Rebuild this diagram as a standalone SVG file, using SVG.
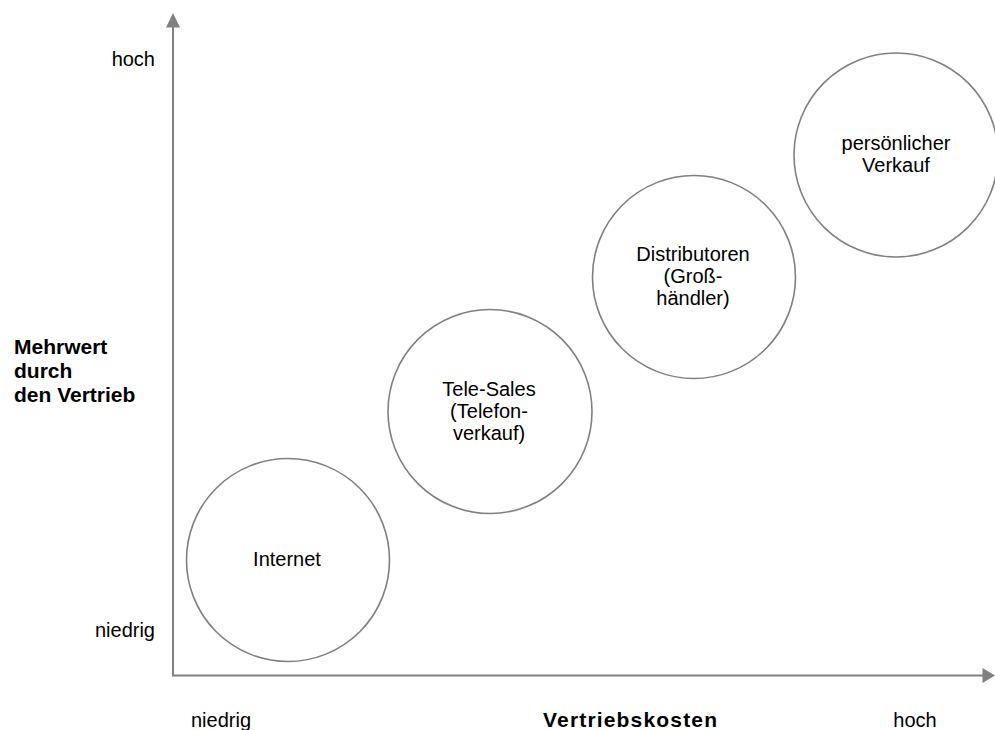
<svg xmlns="http://www.w3.org/2000/svg" width="995" height="730" viewBox="0 0 995 730">
  <style>
    .axis { stroke: #808080; stroke-width: 2; fill: none; }
    .head { fill: #808080; }
    .node circle { fill: #ffffff; stroke: #808080; stroke-width: 1.6; }
    .lbl { font-family: "Liberation Sans", Arial, sans-serif; font-size: 20px; fill: #000000; }
    .mid { text-anchor: middle; }
    .bold { font-weight: bold; font-size: 21px; }
  </style>
  <rect width="995" height="730" fill="#ffffff"/>

  <!-- axes -->
  <g id="connectors">
    <line class="axis" x1="173" y1="675.5" x2="173" y2="24"/>
    <polygon class="head" points="173,13 166,27.5 180,27.5"/>
    <line class="axis" x1="172" y1="675.5" x2="985" y2="675.5"/>
    <polygon class="head" points="995,675.5 982.5,668 982.5,683"/>
  </g>

  <!-- axis labels -->
  <g id="y-axis-labels">
    <text class="lbl" x="155" y="66" text-anchor="end">hoch</text>
    <text class="lbl" x="155" y="637" text-anchor="end">niedrig</text>
    <text class="lbl bold" x="14" y="354">Mehrwert</text>
    <text class="lbl bold" x="14" y="378">durch</text>
    <text class="lbl bold" x="14" y="402">den Vertrieb</text>
  </g>
  <g id="x-axis-labels">
    <text class="lbl mid" x="221" y="727">niedrig</text>
    <text class="lbl bold" x="543" y="727" textLength="174" lengthAdjust="spacing">Vertriebskosten</text>
    <text class="lbl mid" x="915" y="727">hoch</text>
  </g>

  <!-- channels -->
  <g id="internet" class="node">
    <circle cx="288" cy="560" r="101.5"/>
    <text class="lbl mid" x="287" y="566">Internet</text>
  </g>
  <g id="tele-sales" class="node">
    <circle cx="490" cy="411.5" r="102"/>
    <text class="lbl mid" x="489" y="396">Tele-Sales</text>
    <text class="lbl mid" x="489" y="418">(Telefon-</text>
    <text class="lbl mid" x="489" y="440">verkauf)</text>
  </g>
  <g id="distributoren" class="node">
    <circle cx="694" cy="277" r="101.5"/>
    <text class="lbl mid" x="693" y="261">Distributoren</text>
    <text class="lbl mid" x="693" y="283">(Groß-</text>
    <text class="lbl mid" x="693" y="305">händler)</text>
  </g>
  <g id="persoenlicher-verkauf" class="node">
    <circle cx="896" cy="155" r="102"/>
    <text class="lbl mid" x="896" y="150">persönlicher</text>
    <text class="lbl mid" x="896" y="172">Verkauf</text>
  </g>
</svg>
